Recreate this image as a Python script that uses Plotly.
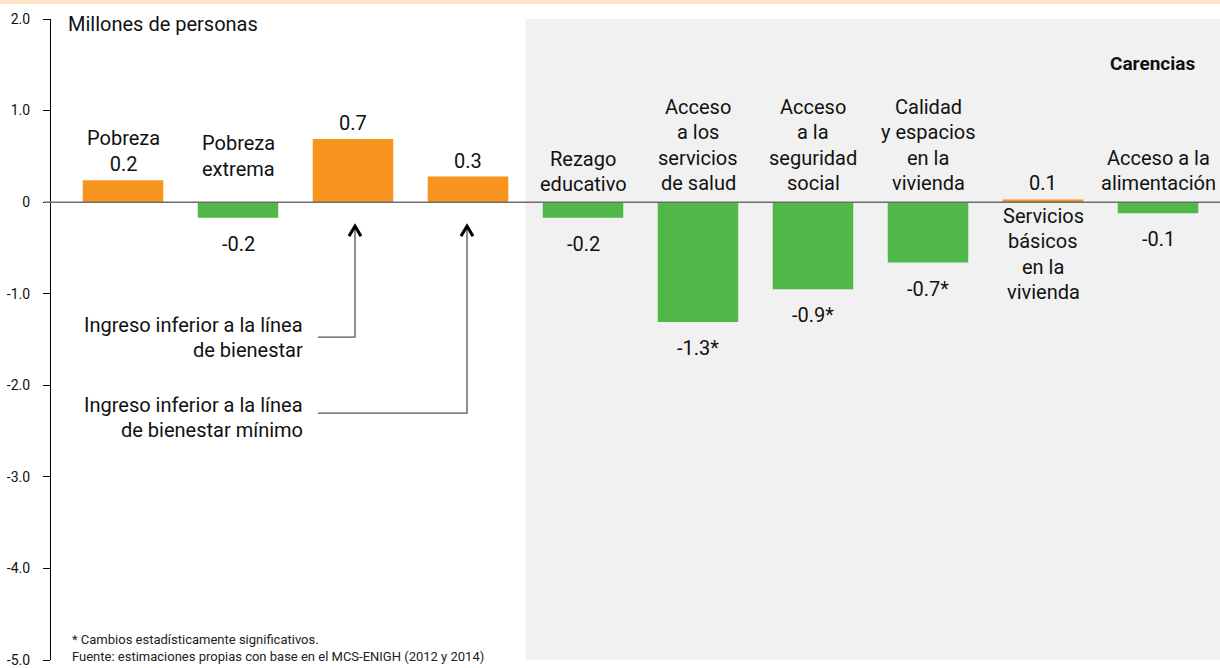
import plotly.graph_objects as go

# ---------------- data ----------------
categories = [
    "Pobreza", "Pobreza extrema",
    "Ingreso inferior a la línea de bienestar",
    "Ingreso inferior a la línea de bienestar mínimo",
    "Rezago educativo", "Acceso a los servicios de salud",
    "Acceso a la seguridad social", "Calidad y espacios en la vivienda",
    "Servicios básicos en la vivienda", "Acceso a la alimentación",
]
values = [0.24, -0.17, 0.69, 0.28, -0.17, -1.31, -0.95, -0.66, 0.03, -0.12]
value_labels = ["0.2", "-0.2", "0.7", "0.3", "-0.2", "-1.3*", "-0.9*", "-0.7*", "0.1", "-0.1"]
ytick_vals = [2, 1, 0, -1, -2, -3, -4, -5]
ytick_text = ["2.0", "1.0", "0", "-1.0", "-2.0", "-3.0", "-4.0", "-5.0"]

# ---------------- style ----------------
FONT = "Roboto, sans-serif"
FS = 20
ORANGE = "#F7941D"
GREEN = "#50B848"
GRAY_BG = "#F1F1F1"
W, H = 1220, 668
ML, MR, MT, MB = 51, 0, 19, 8
PH = H - MT - MB


def py2paper(py):
    return 1 - (py - MT) / PH


x = list(range(len(values)))
colors = [ORANGE if v > 0 else GREEN for v in values]

fig = go.Figure()
fig.add_trace(go.Bar(
    x=x, y=values, width=0.7, marker_color=colors, marker_line_width=0,
    customdata=categories, hovertemplate="%{customdata}: %{y}<extra></extra>",
))

annotations = []


def add_lines(xc, lines, pys, xanchor="center", size=FS, bold=False, xref="x"):
    for ln, py in zip(lines, pys):
        annotations.append(dict(
            x=xc, xref=xref, y=py2paper(py), yref="paper",
            text=("<b>%s</b>" % ln) if bold else ln, showarrow=False,
            xanchor=xanchor, yanchor="middle",
            font=dict(family=FONT, size=size, color="#111"),
        ))


# value labels, derived from the bar values (first bar carries its name above the value)
for i, (v, lab) in enumerate(zip(values, value_labels)):
    if i == 0:
        annotations.append(dict(
            x=i, y=v, text=categories[0] + "<br>" + lab, showarrow=False,
            yanchor="bottom", xanchor="center", yshift=2,
            font=dict(family=FONT, size=FS, color="#111"),
        ))
        continue
    annotations.append(dict(
        x=i, y=v, text=lab, showarrow=False,
        yanchor="middle", xanchor="center",
        yshift=(16 if v > 0 else -26),
        font=dict(family=FONT, size=FS, color="#111"),
    ))

# category name labels
name_layout = {
    1: (["Pobreza", "extrema"], [143, 169]),
    4: (["Rezago", "educativo"], [159, 184]),
    5: (["Acceso", "a los", "servicios", "de salud"], [107, 132, 158, 183]),
    6: (["Acceso", "a la", "seguridad", "social"], [107, 132, 158, 183]),
    7: (["Calidad", "y espacios", "en la", "vivienda"], [107, 132, 158, 183]),
    8: (["Servicios", "básicos", "en la", "vivienda"], [216, 241, 267, 292]),
    9: (["Acceso a la", "alimentación"], [158, 183]),
}
for i, (lines, pys) in name_layout.items():
    add_lines(i, lines, pys)

# pointer labels
add_lines(1.585, ["Ingreso inferior a la línea", "de bienestar"], [325, 350], xanchor="right")
add_lines(1.585, ["Ingreso inferior a la línea", "de bienestar mínimo"], [405, 430], xanchor="right")

# titles
add_lines((66 - ML) / (W - ML - MR), ["Millones de personas"], [24], xanchor="left", xref="paper")
add_lines((1197 - ML) / (W - ML - MR), ["Carencias"], [63], xanchor="right", bold=True, size=19, xref="paper")

# footnotes
for txt, py in [("* Cambios estadísticamente significativos.", 639),
                ("Fuente: estimaciones propias con base en el MCS-ENIGH (2012 y 2014)", 656)]:
    annotations.append(dict(
        x=(70 - ML) / (W - ML - MR), xref="paper", y=py2paper(py), yref="paper",
        text=txt, showarrow=False, xanchor="left", yanchor="middle",
        font=dict(family=FONT, size=13, color="#222"),
    ))


# shapes
def px2x(px):
    return (px - 123) / 115.0


def py2y(py):
    return (202 - py) / 91.57


shapes = [
    # gray "Carencias" panel
    dict(type="rect", xref="x", yref="y", x0=3.5, x1=9.6, y0=py2y(662), y1=2.0,
         fillcolor=GRAY_BG, line_width=0, layer="below"),
    # peach band at top
    dict(type="rect", xref="paper", yref="paper", x0=-ML / (W - ML), x1=1,
         y0=py2paper(4), y1=py2paper(0), fillcolor="#FDE4C6", line_width=0),
    # zero line
    dict(type="line", xref="paper", yref="y", x0=-7 / (W - ML), x1=1, y0=0, y1=0,
         line=dict(color="#6d6d6d", width=1.5), layer="above"),
]
for ax_px, bottom_py in [(355, 337), (467, 413)]:
    xa = px2x(ax_px)
    shapes.append(dict(
        type="path", xref="x", yref="y",
        path="M %f,%f L %f,%f L %f,%f" % (xa, py2y(227), xa, py2y(bottom_py), px2x(318), py2y(bottom_py)),
        line=dict(color="#555", width=1.3),
    ))
    shapes.append(dict(
        type="path", xref="x", yref="y",
        path="M %f,%f L %f,%f L %f,%f" % (px2x(ax_px - 6), py2y(236), xa, py2y(226), px2x(ax_px + 6), py2y(236)),
        line=dict(color="#000", width=3),
    ))

fig.update_layout(
    width=W, height=H,
    margin=dict(l=ML, r=MR, t=MT, b=MB),
    plot_bgcolor="white", paper_bgcolor="white",
    showlegend=False, bargap=0.3,
    xaxis=dict(range=[px2x(ML), px2x(W)], visible=False, fixedrange=True),
    yaxis=dict(
        range=[-5, 2], tickvals=ytick_vals, ticktext=ytick_text,
        showline=True, linecolor="#000", linewidth=1.2,
        ticks="outside", ticklen=7, tickcolor="#000", tickwidth=1.2,
        showgrid=False, zeroline=False, ticklabelstandoff=10,
        tickfont=dict(family=FONT, size=14, color="#111"),
    ),
    annotations=annotations, shapes=shapes,
)

fig.write_html(
    "out.html",
    config={"displayModeBar": False},
    post_script="document.body.style.margin='0';document.body.style.padding='0';",
)
